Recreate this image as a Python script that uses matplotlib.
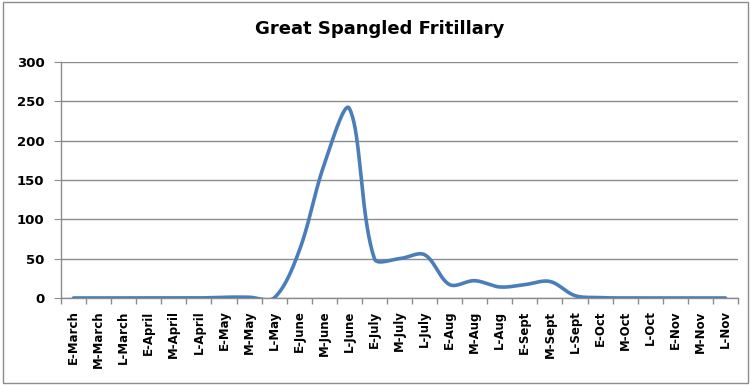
import numpy as np
import matplotlib.pyplot as plt
from matplotlib.patches import Rectangle

plt.rcParams['font.family'] = ['DejaVu Sans']

periods = ['E-March', 'M-March', 'L-March', 'E-April', 'M-April', 'L-April',
           'E-May', 'M-May', 'L-May', 'E-June', 'M-June', 'L-June',
           'E-July', 'M-July', 'L-July', 'E-Aug', 'M-Aug', 'L-Aug',
           'E-Sept', 'M-Sept', 'L-Sept', 'E-Oct', 'M-Oct', 'L-Oct',
           'E-Nov', 'M-Nov', 'L-Nov']
counts = [0, 0, 0, 0, 0, 0, 1, 1, 0, 60, 170, 241,
          50, 50, 55, 17, 22, 14, 17, 21, 3, 0.5, 0, 0,
          0, 0, 0]


def smooth_line(y, sx=25.0, sy=0.787, k=1 / 3, n=40):
    # bezier segments; handles follow the neighbour chord and are split
    # by the lengths of the two adjoining segments (in pixel units)
    px = np.arange(len(y), dtype=float) * sx
    py = np.asarray(y, dtype=float) * sy
    pts = np.column_stack([px, py])
    seg = np.hypot(*np.diff(pts, axis=0).T)
    h_in, h_out = [], []
    for i in range(len(pts)):
        a = pts[max(i - 1, 0)]
        b = pts[min(i + 1, len(pts) - 1)]
        l_prev = seg[i - 1] if i > 0 else 0.0
        l_next = seg[i] if i < len(seg) else 0.0
        tot = l_prev + l_next
        d = (b - a) * k
        h_in.append(d * (l_prev / tot if tot else 0))
        h_out.append(d * (l_next / tot if tot else 0))
    out = []
    t = np.linspace(0, 1, n)[:, None]
    for i in range(len(pts) - 1):
        p0, p3 = pts[i], pts[i + 1]
        p1 = p0 + h_out[i]
        p2 = p3 - h_in[i + 1]
        out.append((1 - t) ** 3 * p0 + 3 * (1 - t) ** 2 * t * p1
                   + 3 * (1 - t) * t ** 2 * p2 + t ** 3 * p3)
    out = np.vstack(out)
    return out[:, 0] / sx, out[:, 1] / sy


fig = plt.figure(figsize=(7.51, 3.85), dpi=100)
fig.patches.append(Rectangle((0.004, 0.006), 0.992, 0.988, transform=fig.transFigure,
                             fill=False, edgecolor='#8c8c8c', linewidth=1.0))
ax = fig.add_axes([0.0812, 0.226, 0.9015, 0.613])

lx, ly = smooth_line(counts)
ax.plot(lx, ly, color='#4a7ebb', linewidth=2.6, solid_capstyle='round', zorder=3)

ax.set_xlim(-0.5, len(periods) - 0.5)
ax.set_ylim(0, 300)
ax.set_yticks(range(0, 301, 50))
ax.set_xticks(range(len(periods)))
ax.set_xticklabels(periods, rotation=90, fontsize=8.5, fontweight='bold')
ax.set_xticks(np.arange(-0.5, len(periods)), minor=True)
ax.tick_params(axis='x', which='major', length=0, pad=9)
ax.tick_params(axis='x', which='minor', length=4.5, color='#8c8c8c', width=1)
ax.tick_params(axis='y', length=5, color='#8c8c8c', labelsize=9.5, pad=7)
for lbl in ax.get_yticklabels():
    lbl.set_fontweight('bold')

ax.grid(axis='y', color='#8c8c8c', linewidth=1)
ax.set_axisbelow(True)
for side in ('top', 'right'):
    ax.spines[side].set_visible(False)
for side in ('left', 'bottom'):
    ax.spines[side].set_color('#8c8c8c')
    ax.spines[side].set_linewidth(1)

fig.text(0.506, 0.925, 'Great Spangled Fritillary', ha='center', va='center',
         fontsize=13, fontweight='bold')

fig.savefig('out.png', dpi=100)
